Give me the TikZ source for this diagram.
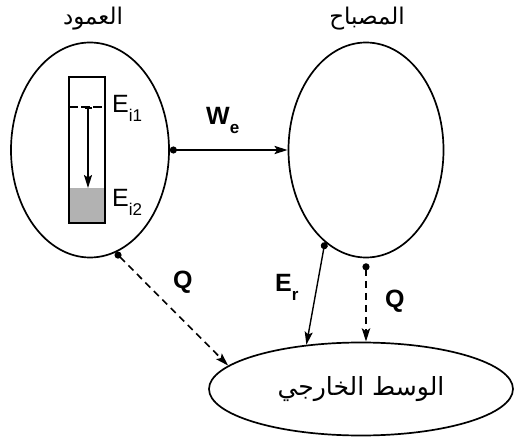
\documentclass[tikz,border=0pt]{standalone}
\usepackage{fontspec}
\setmainfont{Liberation Sans}
\newfontfamily\arabicfont[Script=Arabic]{DejaVu Sans}
\TeXXeTstate=1
\usetikzlibrary{arrows.meta,positioning,shapes.geometric,calc}
\newcommand{\lowsub}[1]{\raisebox{-9pt}{\fontsize{17}{19}\selectfont #1}}

\begin{document}
\begin{tikzpicture}[x=1pt, y=-1pt,
  sys/.style={ellipse, draw, line width=1.7pt, inner sep=0pt},
  arname/.style={font=\fontsize{23}{26}\selectfont\arabicfont, inner sep=0pt},
  qty/.style={font=\fontsize{25}{28}\selectfont, inner sep=0pt, anchor=base west},
  bqty/.style={qty, font=\fontsize{25}{28}\selectfont\bfseries},
  flow/.style={{Circle[length=7pt]}-{Stealth[length=13pt,width=8pt,inset=2.5pt]}},
  heat/.style={flow, dash pattern=on 7pt off 5pt}
]
\useasboundingbox (0,0) rectangle (514,438);

% systems
\node[sys, minimum width=158pt, minimum height=215pt] (col) at (90,150) {};
\node[sys, minimum width=155pt, minimum height=215pt] (lamp) at (366,150) {};
\node[sys, minimum width=304pt, minimum height=93pt] (env) at (361,389)
  {\fontsize{25}{28}\selectfont\arabicfont\beginR الوسط الخارجي\endR};

\node[arname] (colname) at (93,19) {\beginR العمود\endR};
\node[arname] (lampname) at (367,19) {\beginR المصباح\endR};

% the column with its two levels
\fill[black!30] (69,188) rectangle (105,223);
\draw[line width=2pt] (69,77) rectangle (105,223);
\draw[line width=1.8pt, dash pattern=on 9pt off 3pt] (69,107) -- (105,107);
\coordinate (lvl1) at (88,107);
\coordinate (lvl2) at (88,188);
\draw[line width=1.8pt, {Bar[width=7pt]}-{Stealth[length=13pt,width=8pt,inset=2.5pt]}] (lvl1) -- (lvl2);
\node[qty] (ei1) at (112,113) {E\lowsub{i1}};
\node[qty] (ei2) at (112,207) {E\lowsub{i2}};

% exchanges
\draw[flow, line width=2.4pt] (col.east) -- (lamp.west);
\node[bqty] (we) at (206,125) {W\lowsub{e}};

\draw[heat, line width=1.6pt] (col.-76) -- (env.170);
\node[bqty] (q1) at (173,289) {Q};

\draw[flow, line width=1.4pt] (lamp.-114) -- (env.141);
\node[bqty] (er) at (275,292) {E\lowsub{r}};

\coordinate (qout) at ([yshift=-5pt]lamp.south);
\draw[heat, line width=2.8pt] (qout) -- (qout |- env.north);
\node[bqty] (q2) at (385,308) {Q};
\end{tikzpicture}
\end{document}
